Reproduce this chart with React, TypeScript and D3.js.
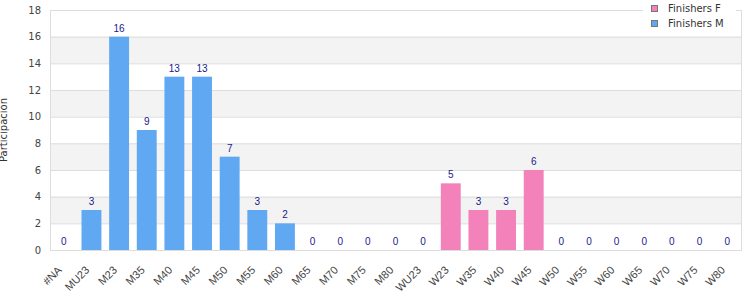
import React, { useEffect, useRef } from 'react';
import * as d3 from 'd3';

const categories = ['#NA', 'MU23', 'M23', 'M35', 'M40', 'M45', 'M50', 'M55', 'M60', 'M65', 'M70', 'M75', 'M80', 'WU23', 'W23', 'W35', 'W40', 'W45', 'W50', 'W55', 'W60', 'W65', 'W70', 'W75', 'W80'];
const finishersM = [0, 3, 16, 9, 13, 13, 7, 3, 2, 0, 0, 0, 0, 0, 0, 0, 0, 0, 0, 0, 0, 0, 0, 0, 0];
const finishersF = [0, 0, 0, 0, 0, 0, 0, 0, 0, 0, 0, 0, 0, 0, 5, 3, 3, 6, 0, 0, 0, 0, 0, 0, 0];
const yTicks = [0, 2, 4, 6, 8, 10, 12, 14, 16, 18];
const seriesNames = ['Finishers F', 'Finishers M'];
const colorF = '#f382ba';
const colorM = '#60a9f2';

export default function App() {
  const ref = useRef<SVGSVGElement>(null);

  useEffect(() => {
    if (!ref.current) return;
    const svg = d3.select(ref.current);
    svg.selectAll('*').remove();

    const margin = { left: 50, right: 9, top: 10, bottom: 50 };
    const width = 750, height = 300;

    const x = d3.scaleBand<string>()
      .domain(categories)
      .range([margin.left, width - margin.right])
      .paddingInner(0.28)
      .paddingOuter(0.14);
    const y = d3.scaleLinear().domain([0, 18]).range([height - margin.bottom, margin.top]);

    // alternating bands
    svg.append('g').selectAll('rect')
      .data(yTicks.filter(t => t < 18 && t % 4 === 2))
      .join('rect')
      .attr('x', margin.left)
      .attr('width', width - margin.right - margin.left)
      .attr('y', d => y(d + 2))
      .attr('height', d => y(d) - y(d + 2))
      .attr('fill', '#f3f3f3');

    // gridlines
    svg.append('g').selectAll('line')
      .data(yTicks)
      .join('line')
      .attr('x1', margin.left)
      .attr('x2', width - margin.right)
      .attr('y1', d => y(d) + 0.5)
      .attr('y2', d => y(d) + 0.5)
      .attr('stroke', '#dddddd');

    // frame
    svg.append('rect')
      .attr('x', margin.left + 0.5)
      .attr('y', margin.top + 0.5)
      .attr('width', width - margin.right - margin.left)
      .attr('height', height - margin.bottom - margin.top)
      .attr('fill', 'none')
      .attr('stroke', '#dddddd');

    // y tick labels
    svg.append('g').selectAll('text')
      .data(yTicks)
      .join('text')
      .attr('x', 41)
      .attr('y', d => y(d))
      .attr('dy', '0.35em')
      .attr('text-anchor', 'end')
      .attr('font-family', 'DejaVu Sans, sans-serif')
      .attr('font-size', 10)
      .attr('fill', '#444')
      .text(d => d);

    svg.append('text')
      .attr('transform', `translate(7,${(margin.top + height - margin.bottom) / 2}) rotate(-90)`)
      .attr('text-anchor', 'middle')
      .attr('font-family', 'DejaVu Sans, sans-serif')
      .attr('font-size', 10)
      .attr('fill', '#333')
      .text('Participación');

    const data = categories.map((c, i) => ({
      cat: c,
      value: finishersM[i] + finishersF[i],
      color: finishersF[i] > 0 ? colorF : colorM,
    }));

    svg.append('g').selectAll('rect')
      .data(data.filter(d => d.value > 0))
      .join('rect')
      .attr('x', d => x(d.cat)!)
      .attr('width', x.bandwidth())
      .attr('y', d => y(d.value))
      .attr('height', d => y(0) - y(d.value))
      .attr('fill', d => d.color);

    svg.append('g').selectAll('text')
      .data(data)
      .join('text')
      .attr('x', d => x(d.cat)! + x.bandwidth() / 2)
      .attr('y', d => y(d.value) - 5)
      .attr('text-anchor', 'middle')
      .attr('font-family', 'Liberation Sans, Arial, sans-serif')
      .attr('font-size', 10)
      .attr('fill', '#1a1a8c')
      .text(d => d.value);

    // x labels
    svg.append('g').selectAll('text')
      .data(categories)
      .join('text')
      .attr('transform', d => `translate(${x(d)! + x.bandwidth() / 2 - 4},${height - margin.bottom + 18}) rotate(-45)`)
      .attr('text-anchor', 'end')
      .attr('dy', '0.35em')
      .attr('font-family', 'Liberation Sans, Arial, sans-serif')
      .attr('font-size', 11)
      .attr('fill', '#444')
      .text(d => d);

    // legend
    const lg = svg.append('g');
    lg.append('rect').attr('x', 643).attr('y', 0).attr('width', 93).attr('height', 32).attr('fill', '#fff');
    seriesNames.forEach((name, i) => {
      lg.append('rect')
        .attr('x', 651.5).attr('y', 5.5 + i * 15)
        .attr('width', 6).attr('height', 6)
        .attr('fill', i === 0 ? colorF : colorM)
        .attr('stroke', '#777');
      lg.append('text')
        .attr('x', 668).attr('y', 8.5 + i * 15)
        .attr('dy', '0.35em')
        .attr('font-family', 'DejaVu Sans, sans-serif')
        .attr('font-size', 10)
        .attr('fill', '#333')
        .text(name);
    });
  }, []);

  return (
    <svg ref={ref} width={750} height={300} style={{ position: 'absolute', left: 0, top: 0 }} />
  );
}
